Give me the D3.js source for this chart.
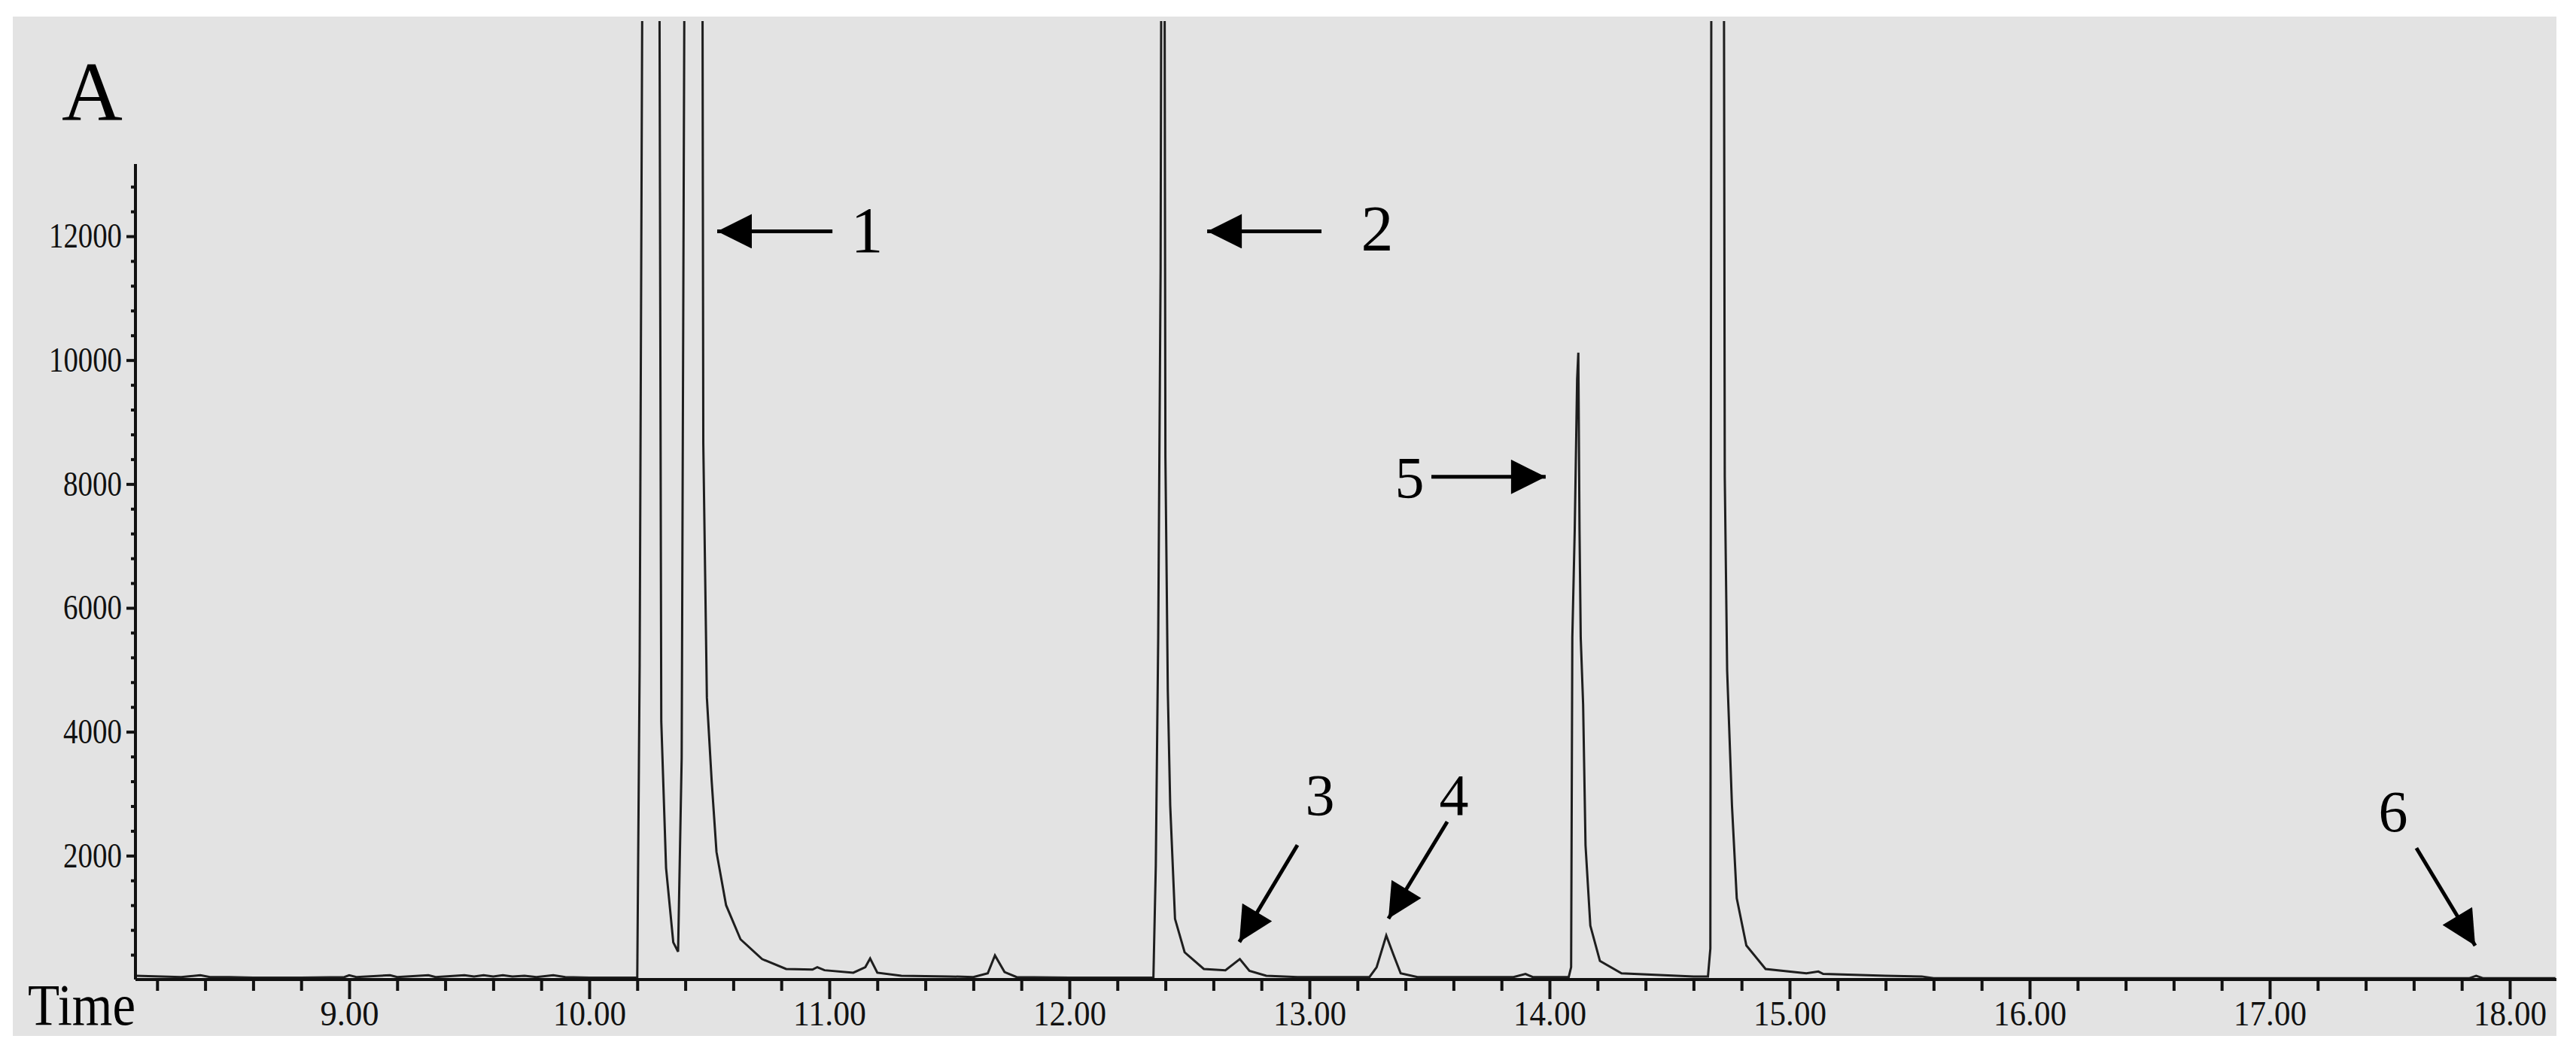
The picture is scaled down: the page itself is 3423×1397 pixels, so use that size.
<!DOCTYPE html>
<html><head><meta charset="utf-8">
<script src="https://cdn.jsdelivr.net/npm/d3@7"></script>
<style>html,body{margin:0;padding:0;background:#fff;}svg{display:block;}</style>
</head><body>
<svg id="c" width="3423" height="1397"></svg>
<script>
const times=[8.11,8.30,8.38,8.42,8.50,8.60,8.80,8.98,9.00,9.03,9.17,9.20,9.33,9.36,9.48,9.52,9.56,9.60,9.64,9.68,9.73,9.78,9.85,9.90,10.00,10.20,10.21,10.225,10.29,10.30,10.32,10.35,10.37,10.385,10.40,10.47,10.475,10.49,10.51,10.53,10.57,10.63,10.72,10.82,10.93,10.95,10.98,11.10,11.15,11.17,11.20,11.30,11.50,11.60,11.66,11.69,11.73,11.78,12.00,12.35,12.36,12.37,12.38,12.385,12.395,12.40,12.41,12.42,12.44,12.48,12.56,12.65,12.71,12.75,12.82,12.95,13.25,13.28,13.32,13.35,13.38,13.45,13.85,13.90,13.93,14.08,14.09,14.095,14.105,14.115,14.12,14.125,14.13,14.14,14.15,14.17,14.21,14.30,14.60,14.66,14.67,14.675,14.725,14.73,14.74,14.76,14.78,14.82,14.90,15.07,15.12,15.14,15.40,15.55,15.60,17.83,17.86,17.89,18.19];
const signal=[60,40,70,40,40,30,30,40,70,40,70,40,70,40,70,50,70,50,70,50,60,40,70,40,30,30,5090,20000,20000,4170,1800,600,450,3580,20000,20000,8660,4550,3200,2060,1200,650,330,170,160,200,150,110,200,340,110,60,50,40,100,390,120,40,30,30,1840,5520,11470,20000,20000,8440,4660,2810,980,440,170,150,330,140,60,40,40,200,710,400,100,40,40,90,40,40,200,5520,7250,9690,10120,7250,5520,4440,2170,870,300,100,50,50,500,20000,20000,8120,4980,2810,1310,550,170,100,130,90,60,50,20,20,60,20,20];
const xMajor=[9,10,11,12,13,14,15,16,17,18];
const yMajor=[2000,4000,6000,8000,10000,12000];
const annLabels=["1","2","3","4","5","6"];
const annLabelT=[11.157,13.282,13.044,13.602,13.417,17.514];
const annLabelV=[11740,11770,2656,2656,7790,2390];
const arrowFromT=[11.013,13.05,12.95,13.574,13.508,17.611];
const arrowFromV=[12080,12080,2170,2547,8115,2123];
const arrowToT=[10.533,12.574,12.708,13.329,13.984,17.856];
const arrowToV=[12080,12080,606,983,8115,546];

const svg=d3.select("#c");
const x=d3.scaleLinear().domain([10,18]).range([783,3335]);
const y=d3.scaleLinear().domain([0,12000]).range([1302,314]);
const X0=180,X1=3397;
svg.append("rect").attr("x",17).attr("y",22).attr("width",3380).attr("height",1355).attr("fill","#e3e3e3");
svg.append("defs").append("clipPath").attr("id","cp").append("rect").attr("x",X0).attr("y",28).attr("width",X1-X0).attr("height",1302-28);
svg.append("defs").append("marker").attr("id","ah").attr("viewBox","0 0 10 10").attr("refX",10).attr("refY",5)
  .attr("markerUnits","userSpaceOnUse").attr("markerWidth",50).attr("markerHeight",46).attr("orient","auto")
  .append("path").attr("d","M0,0L10,5L0,10Z").attr("fill","#000");

const data=times.map((t,i)=>[t,signal[i]]);
svg.append("path").datum(data).attr("clip-path","url(#cp)")
  .attr("d",d3.line().x(d=>x(d[0])).y(d=>y(d[1])))
  .attr("fill","none").attr("stroke","#1e1e1e").attr("stroke-width",3).attr("stroke-linejoin","miter");

// x axis
const xMinor=d3.range(41,91).map(i=>i/5).filter(v=>x(v)<=X1 && Math.abs(v-Math.round(v))>1e-6);
const gx=svg.append("g").attr("transform","translate(0,1302)");
gx.call(d3.axisBottom(x).tickValues(xMinor).tickSize(15).tickFormat("").tickSizeOuter(0));
gx.select(".domain").remove();
const gx2=svg.append("g").attr("transform","translate(0,1302)");
gx2.call(d3.axisBottom(x).tickValues(xMajor).tickSize(26).tickPadding(2).tickFormat(d3.format(".2f")));
gx2.select(".domain").remove();
gx2.selectAll("text").attr("font-family","Liberation Serif").attr("font-size",46).attr("fill","#111")
  .attr("textLength",function(d){return d>=10?97:78;}).attr("lengthAdjust","spacingAndGlyphs");
svg.append("line").attr("x1",X0).attr("x2",X1).attr("y1",1302).attr("y2",1302).attr("stroke","#111").attr("stroke-width",4);

// y axis
const yMinor=d3.range(1,33).map(i=>i*400).filter(v=>v%2000!==0);
const gy=svg.append("g").attr("transform",`translate(${X0},0)`);
gy.call(d3.axisLeft(y).tickValues(yMinor).tickSize(6).tickFormat(""));
gy.select(".domain").remove();
const gy2=svg.append("g").attr("transform",`translate(${X0},0)`);
gy2.call(d3.axisLeft(y).tickValues(yMajor).tickSize(12).tickPadding(6).tickFormat(d3.format("d")));
gy2.select(".domain").remove();
gy2.selectAll("text").attr("font-family","Liberation Serif").attr("font-size",46).attr("fill","#111")
  .attr("textLength",function(d){return d>=10000?97:78;}).attr("lengthAdjust","spacingAndGlyphs");
svg.selectAll(".tick line").attr("stroke","#111").attr("stroke-width",4);
svg.append("line").attr("x1",X0).attr("x2",X0).attr("y1",218).attr("y2",1302).attr("stroke","#111").attr("stroke-width",4);

svg.append("text").attr("x",37).attr("y",1362).attr("font-family","Liberation Serif").attr("font-size",78)
  .attr("textLength",143).attr("lengthAdjust","spacingAndGlyphs").attr("fill","#000").text("Time");
svg.append("text").attr("x",82).attr("y",160).attr("font-family","Liberation Serif").attr("font-size",112).attr("fill","#000").text("A");

// annotations
annLabels.forEach((l,i)=>{
  svg.append("line").attr("x1",x(arrowFromT[i])).attr("y1",y(arrowFromV[i])).attr("x2",x(arrowToT[i])).attr("y2",y(arrowToV[i]))
    .attr("stroke","#000").attr("stroke-width",5).attr("marker-end","url(#ah)");
  svg.append("text").attr("x",x(annLabelT[i])).attr("y",y(annLabelV[i])).attr("text-anchor","middle")
    .attr("font-family","Liberation Serif").attr("font-size",i<2?86:78).attr("fill","#000").text(l);
});
</script>
</body></html>
